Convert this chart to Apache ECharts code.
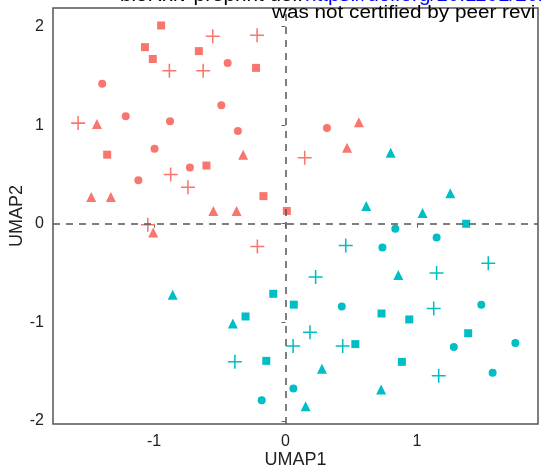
<!DOCTYPE html>
<html><head><meta charset="utf-8">
<script src="https://cdn.jsdelivr.net/npm/echarts@6/dist/echarts.min.js"></script>
<style>html,body{margin:0;padding:0;background:#fff}#c{width:541px;height:471px}</style>
</head><body><div id="c"></div>
<script>
// Tick labels
const xTicks = [-1, 0, 1];
const yTicks = [-2, -1, 0, 1, 2];
// Red group (salmon)
const redCircle = [[-0.44,1.63],[-1.394,1.42],[-0.488,1.20],[-1.215,1.09],[-0.878,1.04],[-0.362,0.94],[-0.996,0.76],[-0.727,0.57],[-1.119,0.44],[0.315,0.97]];
const redTriangle = [[-1.434,1.01],[-0.322,0.70],[-1.477,0.27],[-1.328,0.27],[-0.549,0.13],[-0.372,0.13],[-1.006,-0.09],[0.558,1.03],[0.468,0.77]];
const redSquare = [[-0.946,2.01],[-1.069,1.79],[-0.659,1.75],[-1.009,1.67],[-0.224,1.58],[-1.356,0.70],[-0.601,0.59],[-0.168,0.28],[0.01,0.13]];
const redPlus = [[-0.553,1.90],[-0.216,1.91],[-0.883,1.55],[-0.626,1.55],[-1.577,1.02],[-0.873,0.50],[-0.742,0.37],[-1.047,-0.01],[-0.214,-0.23],[0.146,0.67]];
// Teal group
const tealCircle = [[0.835,-0.05],[1.149,-0.14],[0.737,-0.24],[0.428,-0.84],[0.06,-1.67],[-0.181,-1.79],[1.489,-0.82],[1.748,-1.21],[1.28,-1.25],[1.575,-1.51]];
const tealTriangle = [[0.80,0.72],[1.253,0.31],[0.614,0.18],[1.042,0.11],[0.858,-0.52],[-0.858,-0.72],[-0.40,-1.01],[0.277,-1.47],[0.727,-1.68],[0.153,-1.85]];
const tealSquare = [[1.374,0.0],[-0.093,-0.71],[0.063,-0.82],[0.73,-0.91],[-0.304,-0.94],[0.531,-1.22],[-0.146,-1.39],[0.941,-0.97],[1.389,-1.11],[0.885,-1.40]];
const tealPlus = [[0.458,-0.22],[1.542,-0.40],[1.149,-0.50],[0.229,-0.54],[0.186,-1.10],[0.058,-1.24],[0.435,-1.24],[-0.385,-1.40],[1.127,-0.86],[1.165,-1.54]];

const RED = '#F8766D', TEAL = '#00BFC4';
const PLUS = 'path://M4.45,0h1.1v10h-1.1z M0,4.45h10v1.1h-10z';
function s(data, color, symbol, size) {
  return {type:'scatter', data, symbol, symbolSize:size, itemStyle:{color, opacity:1}, silent:true};
}
const series = [
  s(redCircle, RED, 'circle', 8), s(redTriangle, RED, 'triangle', 10), s(redSquare, RED, 'rect', 8), s(redPlus, RED, PLUS, 14),
  s(tealCircle, TEAL, 'circle', 8), s(tealTriangle, TEAL, 'triangle', 10), s(tealSquare, TEAL, 'rect', 8), s(tealPlus, TEAL, PLUS, 14)
];
series.push({type:'scatter', data:[], markLine:{silent:true, symbol:['none','none'], label:{show:false},
  lineStyle:{color:'#555', type:[7,6], width:1.5},
  data:[{xAxis:0},{yAxis:0}]}});

const chart = echarts.init(document.getElementById('c'), null, {renderer:'canvas'});
const FF = 'Liberation Sans, Arial, sans-serif';
const tickFont = {fontFamily:FF, fontSize:16, color:'#222'};
chart.setOption({
  animation:false,
  grid:{left:53, right:3, top:8, bottom:47, outerBoundsMode:'none', containLabel:false, show:true, borderColor:'#555', borderWidth:1.5, backgroundColor:'#fff'},
  xAxis:{type:'value', min:-1.768, max:1.92, splitLine:{show:false}, axisLine:{show:false},
    axisTick:{show:true, customValues:xTicks, length:4, lineStyle:{color:'#666'}},
    axisLabel:{customValues:xTicks, margin:10, ...tickFont},
    name:'UMAP1', nameLocation:'middle', nameGap:27, nameMoveOverlap:false, nameTextStyle:{fontFamily:FF, fontSize:18, color:'#222'}},
  yAxis:{type:'value', min:-2.03, max:2.187, splitLine:{show:false}, axisLine:{show:false},
    axisTick:{show:true, customValues:yTicks, length:4, lineStyle:{color:'#666'}},
    axisLabel:{customValues:yTicks, margin:9, ...tickFont},
    name:'UMAP2', nameLocation:'middle', nameGap:27, nameMoveOverlap:false, nameTextStyle:{fontFamily:FF, fontSize:18, color:'#222'}},
  series,
  graphic:[
    {type:'text', x:120, y:-13, scaleX:1.15, style:{text:'bioRxiv preprint doi:', font:'18px Liberation Sans, Arial', fill:'#000'}, z:100},
    {type:'text', x:305, y:-13, scaleX:1.15, style:{text:'https://doi.org/10.1101/2021', font:'18px Liberation Sans, Arial', fill:'#0000ee'}, z:100},
    {type:'text', x:272, y:4, scaleX:1.15, style:{text:'was not certified by peer revi', font:'18px Liberation Sans, Arial', fill:'#000'}, z:100}
  ]
});
</script></body></html>
